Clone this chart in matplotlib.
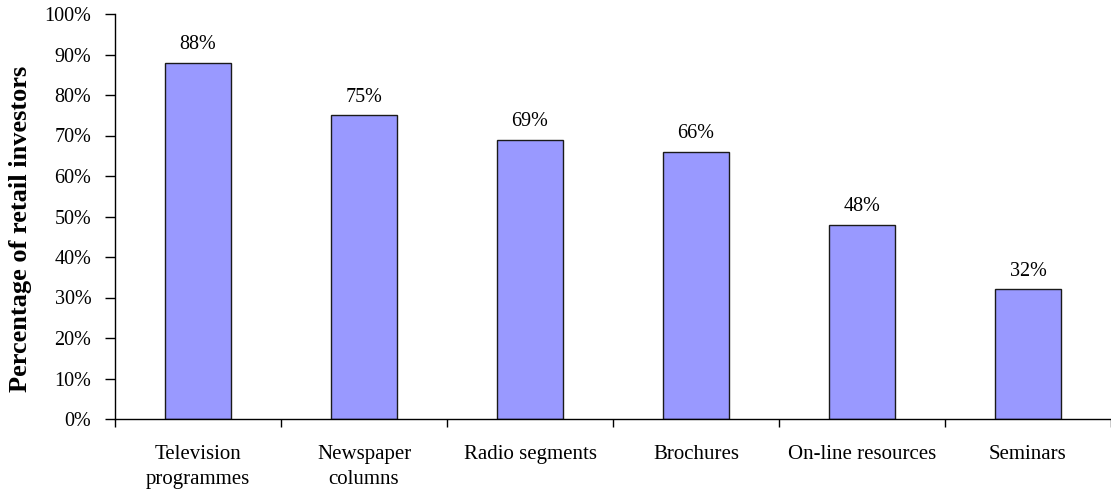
import matplotlib
matplotlib.use("Agg")
import matplotlib.pyplot as plt
import numpy as np

# Sources of information used by retail investors
categories = ["Television\nprogrammes", "Newspaper\ncolumns", "Radio segments",
              "Brochures", "On-line resources", "Seminars"]
shares = [88, 75, 69, 66, 48, 32]
y_ticks = list(range(0, 101, 10))

plt.rcParams["font.family"] = ["Liberation Serif", "DejaVu Serif"]

fig = plt.figure(figsize=(11.11, 4.95), dpi=100)
ax = fig.add_axes([115 / 1111, 76 / 495, 996 / 1111, 405 / 495])

x = np.arange(len(categories))
ax.bar(x, shares, width=0.4, color="#9999FF", edgecolor="#1a1a1a", linewidth=1.0)

for xi, v in zip(x, shares):
    ax.annotate(f"{v}%", (xi, v), xytext=(0, 6), textcoords="offset points",
                ha="center", va="bottom", fontsize=14.5)

ax.set_xlim(-0.5, len(categories) - 0.5)
ax.set_ylim(0, 100)
ax.set_yticks(y_ticks)
ax.set_yticklabels([f"{t}%" for t in y_ticks], fontsize=14.5)

# category labels centred, ticks between categories
ax.set_xticks(x)
ax.set_xticklabels(categories, fontsize=15, linespacing=1.4)
ax.tick_params(axis="x", which="major", length=0, pad=19)
ax.set_xticks(np.arange(-0.5, len(categories), 1.0), minor=True)
ax.tick_params(axis="x", which="minor", length=6, width=1, direction="out")
ax.tick_params(axis="y", length=7, width=1, direction="out", pad=10)

for side in ("top", "right"):
    ax.spines[side].set_visible(False)
for side in ("left", "bottom"):
    ax.spines[side].set_linewidth(1.0)

ax.set_ylabel("Percentage of retail investors", fontsize=19, fontweight="bold")
ax.yaxis.set_label_coords(-0.083, 0.47)

fig.savefig("out.png", dpi=100)
